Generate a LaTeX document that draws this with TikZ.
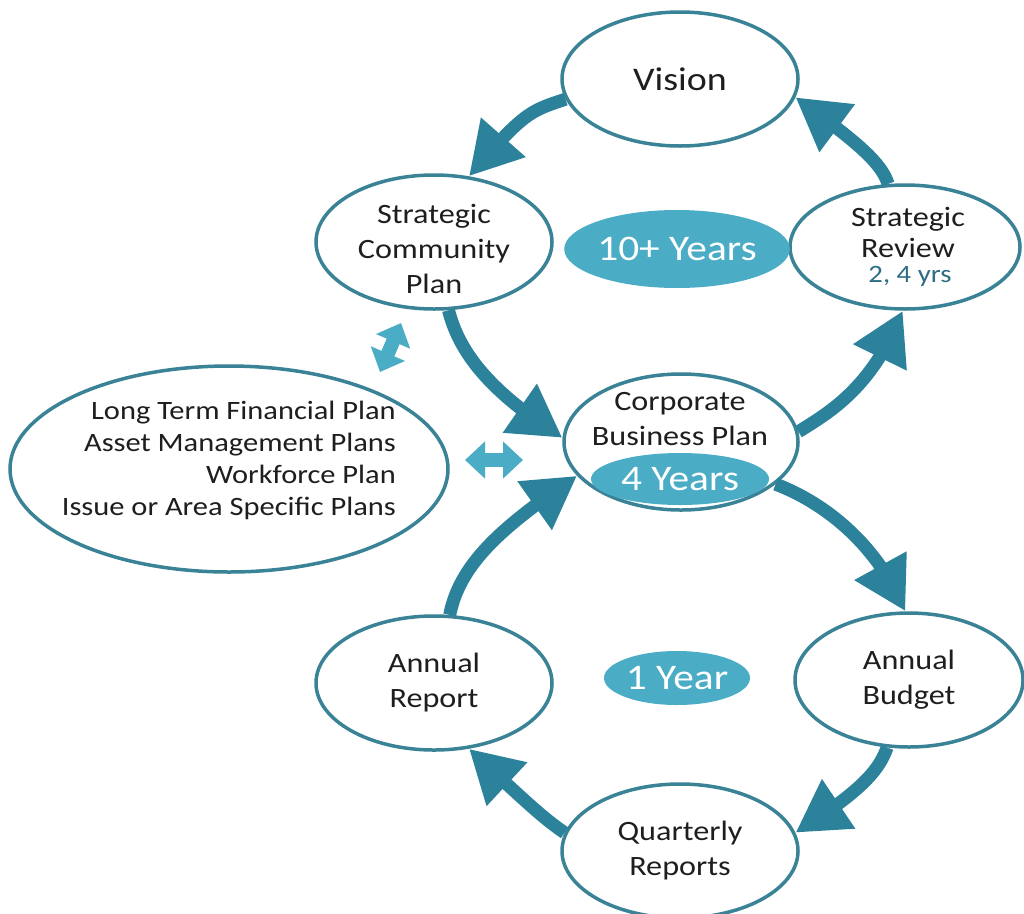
\documentclass[tikz,border=0pt]{standalone}
\usepackage{fontspec}
\setmainfont{Carlito}[FakeStretch=1.15]
\usetikzlibrary{shapes.geometric,arrows.meta,bending}
\definecolor{arrowc}{HTML}{2C829B}
\definecolor{borderc}{HTML}{3A8397}
\definecolor{fillc}{HTML}{4BACC6}
\definecolor{txtc}{HTML}{1E1E1E}
\definecolor{subc}{HTML}{2E6E84}
\tikzset{
  box/.style={ellipse, draw=borderc, line width=3.5pt, fill=white,
    minimum width=236pt, minimum height=134pt, inner sep=0pt, align=center,
    text=txtc, font=\fontsize{28}{35}\selectfont},
  pill/.style={ellipse, fill=fillc, inner sep=0pt, text=white,
    font=\fontsize{36}{40}\selectfont},
  lbl/.style={inner sep=0pt, text=txtc, font=\fontsize{28}{35}\selectfont, align=center},
  flow/.style={draw=arrowc, line width=13pt, -{Triangle[length=52pt,width=56pt,flex]}},
  dbl/.style={draw=fillc, line width=14pt,
    {Triangle[length=20pt,width=36pt]}-{Triangle[length=20pt,width=36pt]}}
}
\begin{document}
\begin{tikzpicture}[x=1pt,y=-1pt]
\useasboundingbox (0,0) rectangle (1024,913);
% ellipses
\node[box, font=\fontsize{33}{38}\selectfont] (vision) at (680,79) {Vision};
\node[box] (scp) at (434,242) {};
\node[lbl] (scptxt) at (434,249) {Strategic\\Community\\Plan};
\node[box, minimum width=230pt, minimum height=124pt] (sr) at (905,247) {};
\node[lbl, font=\fontsize{28}{31}\selectfont] (srtxt) at (908,232) {Strategic\\Review};
\node[inner sep=0pt, text=subc, font=\fontsize{25}{28}\selectfont] (srsub) at (910,276) {2, 4 yrs};
\node[pill, minimum width=200pt, minimum height=78pt] (ten) at (677,249) {10+ Years};
\node[box, minimum width=234pt, minimum height=136pt] (cbp) at (681,442) {};
\node[lbl] (cbptxt) at (680,419) {Corporate\\Business Plan};
\node[pill, minimum width=178pt, minimum height=52pt] (four) at (680,479) {4 Years};
\node[box, minimum width=438pt, minimum height=206pt] (ltp) at (229,469) {};
\node[lbl, align=right, font=\fontsize{26.5}{32}\selectfont, anchor=east] (ltptxt) at (396,460)
  {Long Term Financial Plan\\Asset Management Plans\\Workforce Plan\\Issue or Area Specific Plans};
\node[box] (ar) at (434,683) {Annual\\Report};
\node[pill, minimum width=146pt, minimum height=54pt] (one) at (677,678) {1 Year};
\node[box, minimum width=228pt] (ab) at (909,680) {Annual\\Budget};
\node[box] (qr) at (680,851) {Quarterly\\Reports};
% main cycle arrows
\draw[flow] (vision.190) .. controls (530,111) and (524,112) .. (scp.62);
\draw[flow] (sr.105) .. controls (881,162) and (857,142) .. (vision.-9);
\draw[flow] (scp.282) .. controls (459,351) and (487,390) .. (cbp.178);
\draw[flow] (cbp.5) .. controls (828,413) and (872,389) .. (sr.268);
\draw[flow] (cbp.-24) .. controls (812,498) and (872,533) .. (ab.93);
\draw[flow] (ab.252) .. controls (879,771) and (860,792) .. (qr.9);
\draw[flow] (qr.171) .. controls (543,818) and (526,802) .. (ar.298);
\draw[flow] (ar.77) .. controls (460,563) and (503,526) .. (cbp.198);
% double arrows
\coordinate (d1a) at (380,372);
\coordinate (d1b) at (401,323);
\coordinate (d2a) at (465,460);
\coordinate (d2b) at (523,460);
\draw[dbl] (d1a) -- (d1b);
\draw[dbl] (d2a) -- (d2b);
\end{tikzpicture}
\end{document}
